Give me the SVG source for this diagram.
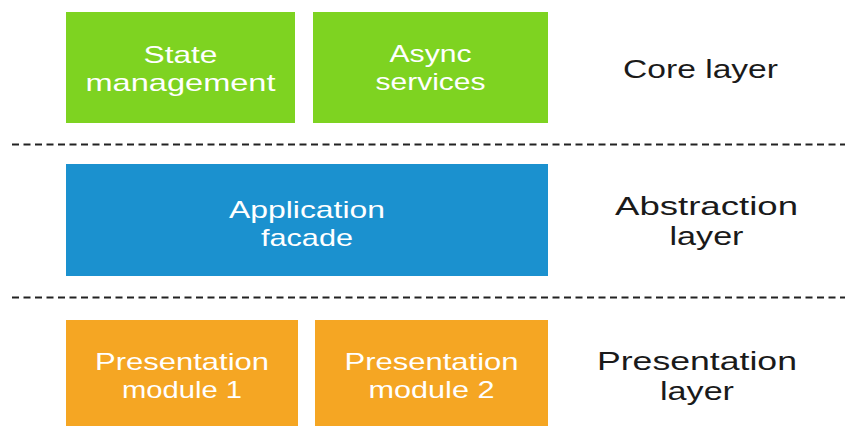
<svg xmlns="http://www.w3.org/2000/svg" width="845" height="426" viewBox="0 0 845 426">
<style>
.box text{font-family:"Liberation Sans",Arial,sans-serif;font-size:24px;fill:#ffffff;text-anchor:middle;}
.lbl{font-family:"Liberation Sans",Arial,sans-serif;font-size:26.5px;fill:#1a1a1a;text-anchor:middle;}
.green{fill:#7ED321;}
.blue{fill:#1B91CF;}
.orange{fill:#F5A623;}
.sep{stroke:#222;stroke-width:2;stroke-dasharray:7 4.5;}
</style>
<rect width="845" height="426" fill="#ffffff"/>
<g id="separators">
<line class="sep" x1="12" y1="144.5" x2="845" y2="144.5"/>
<line class="sep" x1="12" y1="297.5" x2="845" y2="297.5"/>
</g>
<g id="state-management" class="box">
<rect class="green" x="66" y="12" width="229" height="111"/>
<text><tspan x="180.5" y="63" textLength="74" lengthAdjust="spacingAndGlyphs">State</tspan><tspan x="180.5" y="90.5" textLength="190" lengthAdjust="spacingAndGlyphs">management</tspan></text>
</g>
<g id="async-services" class="box">
<rect class="green" x="313" y="12" width="235" height="111"/>
<text><tspan x="430.5" y="62" textLength="82" lengthAdjust="spacingAndGlyphs">Async</tspan><tspan x="430.5" y="89.5" textLength="110" lengthAdjust="spacingAndGlyphs">services</tspan></text>
</g>
<g id="application-facade" class="box">
<rect class="blue" x="66" y="164" width="482" height="112"/>
<text><tspan x="307" y="218" textLength="156" lengthAdjust="spacingAndGlyphs">Application</tspan><tspan x="307" y="245.5" textLength="92" lengthAdjust="spacingAndGlyphs">facade</tspan></text>
</g>
<g id="presentation-module-1" class="box">
<rect class="orange" x="66" y="320" width="232" height="106"/>
<text><tspan x="182" y="370" textLength="174" lengthAdjust="spacingAndGlyphs">Presentation</tspan><tspan x="182" y="397.5" textLength="120" lengthAdjust="spacingAndGlyphs">module 1</tspan></text>
</g>
<g id="presentation-module-2" class="box">
<rect class="orange" x="315" y="320" width="233" height="106"/>
<text><tspan x="431.5" y="370" textLength="174" lengthAdjust="spacingAndGlyphs">Presentation</tspan><tspan x="431.5" y="397.5" textLength="126" lengthAdjust="spacingAndGlyphs">module 2</tspan></text>
</g>
<g id="core-layer">
<text class="lbl" x="700.5" y="78" textLength="155" lengthAdjust="spacingAndGlyphs">Core layer</text>
</g>
<g id="abstraction-layer">
<text class="lbl"><tspan x="706.5" y="215" textLength="183" lengthAdjust="spacingAndGlyphs">Abstraction</tspan><tspan x="706.5" y="245" textLength="74" lengthAdjust="spacingAndGlyphs">layer</tspan></text>
</g>
<g id="presentation-layer">
<text class="lbl"><tspan x="697" y="370" textLength="200" lengthAdjust="spacingAndGlyphs">Presentation</tspan><tspan x="697" y="400" textLength="74" lengthAdjust="spacingAndGlyphs">layer</tspan></text>
</g>
</svg>
